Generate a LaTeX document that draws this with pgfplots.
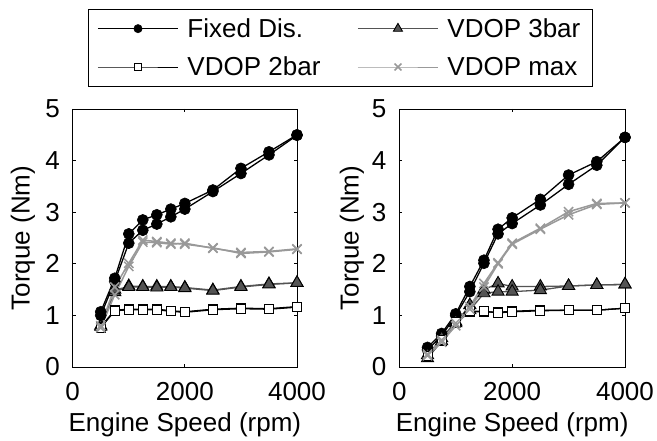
\documentclass[border=0pt]{standalone}
\usepackage{fontspec}
\setmainfont{Liberation Sans}
\usepackage{pgfplots}
\pgfplotsset{compat=1.18}

\definecolor{darkg}{gray}{0.33}
\definecolor{lightg}{gray}{0.6}

\newcommand{\bigfont}{\fontsize{26bp}{30bp}\selectfont}

\pgfplotsset{
  torque/.style={
    scale only axis, height=258bp,
    xmin=0, xmax=4000, ymin=0, ymax=5,
    xtick={0,2000,4000}, ytick={0,1,2,3,4,5},
    tick align=inside, major tick length=3bp,
    axis line style={line width=0.8bp},
    every tick/.style={black, line width=0.8bp},
    /pgf/number format/assume math mode=true,
    /pgf/number format/1000 sep={},
    tick label style={font=\bigfont},
    label style={font=\bigfont},
    xticklabel style={anchor=base, inner sep=0pt, yshift=-33bp},
    yticklabel style={anchor=east, inner sep=0pt, xshift=-12.7bp},
    xlabel={Engine Speed (rpm)}, ylabel={Torque (Nm)},
    xlabel style={at={(axis description cs:0.5,-0.2508)}, anchor=base},
    clip=false,
  },
  fixed/.style={black, line width=1.3bp, mark=*, mark size=5.5bp,
    mark options={fill=black, draw=black, line width=0.6bp}},
  bar3/.style={darkg, line width=1.3bp, mark=triangle*, mark size=7bp,
    mark options={fill=darkg, draw=black, line width=0.9bp}},
  bar2/.style={black, line width=1.3bp, mark=square*, mark size=4.5bp,
    mark options={fill=white, draw=black, line width=0.9bp}},
  vmax/.style={lightg, line width=1.5bp, mark=x, mark size=6.5bp,
    mark options={line width=1.5bp}},
}

\begin{document}
\begin{tikzpicture}
% ---- Left panel ----
\begin{axis}[torque, width=224.3bp, at={(72.7bp,74bp)}, anchor=south west,
  ylabel style={at={(axis description cs:-0.2216,0.5)}, anchor=center, rotate=0},
  legend columns=2,
  legend image code/.code={\draw[mark repeat=2,mark phase=2,line width=1bp,every mark/.append style={scale=0.75}] plot coordinates {(0bp,0bp) (40bp,0bp) (80bp,0bp)};},
  legend style={at={(axis description cs:0.0682,1.3876)}, anchor=north west,
    draw=black, line width=1bp, fill=white, font=\bigfont,
    inner xsep=9bp, inner ysep=6bp, row sep=12bp,
    nodes={inner sep=3bp},
    cells={anchor=west},
    /tikz/every odd column/.append style={column sep=6bp},
    /tikz/every even column/.append style={column sep=34bp}},
]
\addplot[fixed] table {
500 1.07
750 1.72
1000 2.58
1250 2.85
1500 2.95
1750 3.06
2000 3.17
2500 3.43
3000 3.85
3500 4.17
4000 4.50
};
\addlegendentry{Fixed Dis.}
\addplot[fixed, forget plot] table {
500 1.00
750 1.66
1000 2.40
1250 2.65
1500 2.77
1750 2.91
2000 3.06
2500 3.40
3000 3.75
3500 4.11
4000 4.49
};
\addplot[bar3] table {
500 0.80
750 1.45
1000 1.57
1250 1.56
1500 1.56
1750 1.56
2000 1.54
2500 1.49
3000 1.56
3500 1.61
4000 1.63
};
\addlegendentry{VDOP 3bar}
\addplot[bar3, forget plot] table {
500 0.78
750 1.50
1000 1.55
1250 1.55
1500 1.54
1750 1.55
2000 1.53
2500 1.48
3000 1.55
3500 1.60
4000 1.63
};
\addplot[bar2] table {
500 0.78
750 1.10
1000 1.12
1250 1.12
1500 1.12
1750 1.09
2000 1.07
2500 1.12
3000 1.14
3500 1.13
4000 1.17
};
\addlegendentry{VDOP 2bar}
\addplot[bar2, forget plot] table {
500 0.76
750 1.09
1000 1.11
1250 1.11
1500 1.11
1750 1.08
2000 1.06
2500 1.11
3000 1.13
3500 1.12
4000 1.16
};
\addplot[vmax] table {
500 0.80
750 1.55
1000 2.01
1250 2.46
1500 2.43
1750 2.40
2000 2.38
2500 2.31
3000 2.20
3500 2.23
4000 2.28
};
\addlegendentry{VDOP max}
\addplot[vmax, forget plot] table {
500 0.76
750 1.40
1000 1.95
1250 2.42
1500 2.41
1750 2.38
2000 2.40
2500 2.30
3000 2.22
3500 2.24
4000 2.29
};
\end{axis}

% ---- Right panel ----
\begin{axis}[torque, width=225.7bp, at={(399.3bp,74bp)}, anchor=south west,
  ylabel style={at={(axis description cs:-0.2096,0.5)}, anchor=center, rotate=0},
]
\addplot[fixed] table {
500 0.38
750 0.65
1000 1.03
1250 1.56
1500 2.07
1750 2.67
2000 2.89
2500 3.25
3000 3.72
3500 3.98
4000 4.45
};
\addplot[fixed] table {
500 0.33
750 0.60
1000 1.00
1250 1.46
1500 2.01
1750 2.58
2000 2.78
2500 3.14
3000 3.54
3500 3.91
4000 4.45
};
\addplot[bar3] table {
500 0.17
750 0.50
1000 0.85
1250 1.20
1500 1.50
1750 1.62
2000 1.56
2500 1.56
3000 1.57
3500 1.59
4000 1.60
};
\addplot[bar3] table {
500 0.23
750 0.56
1000 0.88
1250 1.10
1500 1.43
1750 1.46
2000 1.46
2500 1.49
3000 1.57
3500 1.59
4000 1.60
};
\addplot[bar2] table {
500 0.20
750 0.50
1000 0.85
1250 1.07
1500 1.07
1750 1.06
2000 1.08
2500 1.10
3000 1.10
3500 1.10
4000 1.14
};
\addplot[bar2] table {
500 0.22
750 0.52
1000 0.87
1250 1.08
1500 1.08
1750 1.05
2000 1.07
2500 1.09
3000 1.10
3500 1.10
4000 1.14
};
\addplot[vmax] table {
500 0.25
750 0.52
1000 0.85
1250 1.17
1500 1.62
1750 2.02
2000 2.40
2500 2.69
3000 3.01
3500 3.17
4000 3.18
};
\addplot[vmax] table {
500 0.22
750 0.48
1000 0.80
1250 1.12
1500 1.55
1750 2.00
2000 2.38
2500 2.67
3000 2.95
3500 3.15
4000 3.18
};
\end{axis}
\pgfresetboundingbox
\path[use as bounding box] (0,0) rectangle (657bp,441bp);
\end{tikzpicture}
\end{document}
